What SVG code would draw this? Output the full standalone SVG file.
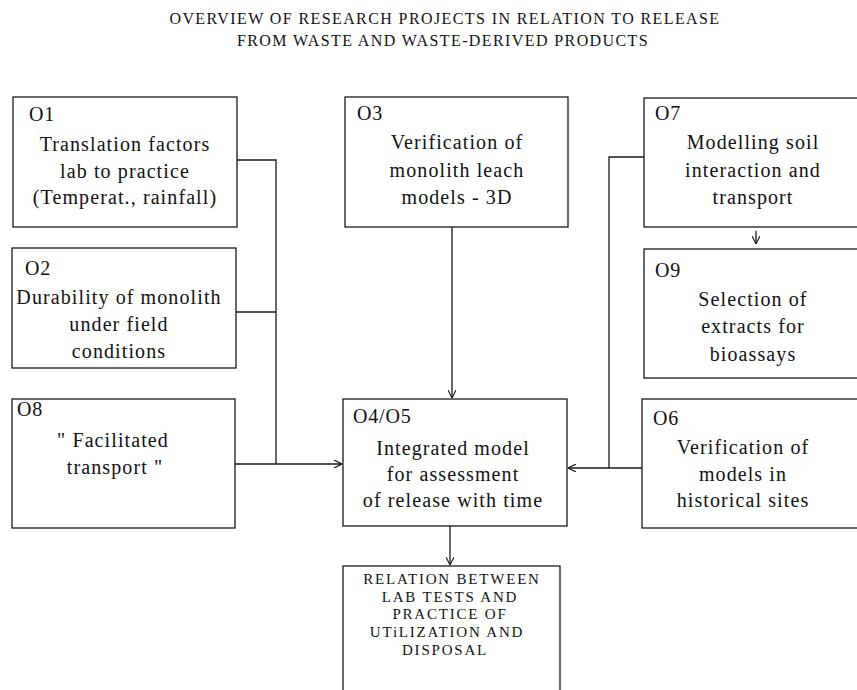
<svg xmlns="http://www.w3.org/2000/svg" width="857" height="690" viewBox="0 0 857 690">
<defs>
<style>
.box{fill:#fff;stroke:#1a1a1a;stroke-width:1.3}
.t{font-family:"Liberation Serif","DejaVu Serif",serif;font-size:20px;fill:#111;text-anchor:middle;letter-spacing:1.1px}
.lb{font-family:"Liberation Serif","DejaVu Serif",serif;font-size:20px;fill:#111;letter-spacing:0.8px}
.cap{font-family:"Liberation Serif","DejaVu Serif",serif;font-size:15px;fill:#111;text-anchor:middle;letter-spacing:1.8px}
.title{font-family:"Liberation Serif","DejaVu Serif",serif;font-size:16px;fill:#111;text-anchor:middle;letter-spacing:1.4px}
.c{fill:none;stroke:#1a1a1a;stroke-width:1.3}
</style>
<marker id="ah" viewBox="0 0 10 10" refX="10" refY="5" markerWidth="8" markerHeight="8" markerUnits="userSpaceOnUse" orient="auto">
<path d="M0,0 L10,5 L0,10" fill="none" stroke="#1a1a1a" stroke-width="1.4"/>
</marker>
</defs>
<rect width="857" height="690" fill="#fff"/>
<g id="title">
<text class="title" x="445" y="24">OVERVIEW OF RESEARCH PROJECTS IN RELATION TO RELEASE</text>
<text class="title" x="443" y="46">FROM WASTE AND WASTE-DERIVED PRODUCTS</text>
</g>
<g id="connectors">
<polyline class="c" points="237,160 276,160 276,464"/>
<line class="c" x1="236" y1="312" x2="276" y2="312"/>
<line class="c" x1="235" y1="464" x2="342" y2="464" marker-end="url(#ah)"/>
<line class="c" x1="452" y1="227" x2="452" y2="398" marker-end="url(#ah)"/>
<polyline class="c" points="644,157 609,157 609,468"/>
<line class="c" x1="642" y1="468" x2="568" y2="468" marker-end="url(#ah)"/>
<line class="c" x1="756" y1="231" x2="756" y2="244" marker-end="url(#ah)"/>
<line class="c" x1="450" y1="526" x2="450" y2="565" marker-end="url(#ah)"/>
</g>
<g id="O1">
<rect class="box" x="13" y="97" width="224" height="130"/>
<text class="lb" x="29" y="121">O1</text>
<text class="t" x="125" y="151">Translation factors</text>
<text class="t" x="125" y="178">lab to practice</text>
<text class="t" x="125" y="204">(Temperat., rainfall)</text>
</g>
<g id="O2">
<rect class="box" x="12" y="248" width="224" height="120"/>
<text class="lb" x="25" y="275">O2</text>
<text class="t" x="119" y="304">Durability of monolith</text>
<text class="t" x="119" y="331">under field</text>
<text class="t" x="119" y="358">conditions</text>
</g>
<g id="O8">
<rect class="box" x="12" y="399" width="223" height="129"/>
<text class="lb" x="17" y="416">O8</text>
<text class="t" x="113" y="447">" Facilitated</text>
<text class="t" x="115" y="474">transport "</text>
</g>
<g id="O3">
<rect class="box" x="345" y="97" width="223" height="130"/>
<text class="lb" x="357" y="120">O3</text>
<text class="t" x="457" y="149">Verification of</text>
<text class="t" x="457" y="177">monolith leach</text>
<text class="t" x="457" y="204">models - 3D</text>
</g>
<g id="O4O5">
<rect class="box" x="343" y="399" width="224" height="127"/>
<text class="lb" x="353" y="423">O4/O5</text>
<text class="t" x="453" y="455">Integrated model</text>
<text class="t" x="453" y="481">for assessment</text>
<text class="t" x="453" y="507">of release with time</text>
</g>
<g id="O7">
<rect class="box" x="644" y="98" width="230" height="129"/>
<text class="lb" x="655" y="120">O7</text>
<text class="t" x="753" y="149">Modelling soil</text>
<text class="t" x="753" y="177">interaction and</text>
<text class="t" x="753" y="204">transport</text>
</g>
<g id="O9">
<rect class="box" x="644" y="249" width="230" height="129"/>
<text class="lb" x="655" y="277">O9</text>
<text class="t" x="753" y="306">Selection of</text>
<text class="t" x="753" y="333">extracts for</text>
<text class="t" x="753" y="361">bioassays</text>
</g>
<g id="O6">
<rect class="box" x="642" y="399" width="230" height="129"/>
<text class="lb" x="653" y="425">O6</text>
<text class="t" x="743" y="454">Verification of</text>
<text class="t" x="743" y="481">models in</text>
<text class="t" x="743" y="507">historical sites</text>
</g>
<g id="result">
<rect class="box" x="343" y="566" width="217" height="140"/>
<text class="cap" x="452" y="584">RELATION BETWEEN</text>
<text class="cap" x="450" y="602">LAB TESTS AND</text>
<text class="cap" x="450" y="619">PRACTICE OF</text>
<text class="cap" x="447" y="637">UTiLIZATION AND</text>
<text class="cap" x="445" y="655">DISPOSAL</text>
</g>
</svg>
